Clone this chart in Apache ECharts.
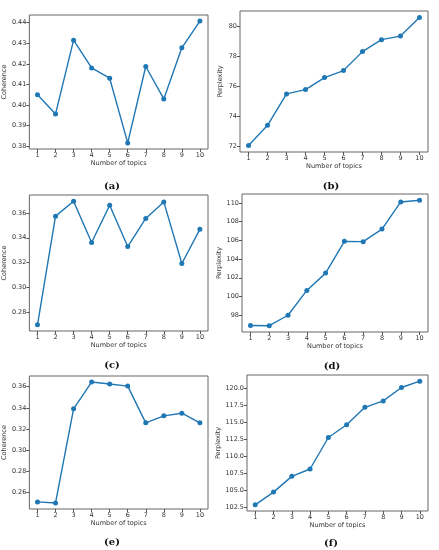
<!DOCTYPE html>
<html>
<head>
<meta charset="utf-8">
<script src="https://cdn.jsdelivr.net/npm/echarts@6/dist/echarts.min.js"></script>
<style>
html,body{margin:0;padding:0;background:#fff;}
#chart{width:439px;height:550px;}
</style>
</head>
<body>
<div id="chart"></div>
<script>
var topics = [1, 2, 3, 4, 5, 6, 7, 8, 9, 10];
var coherenceA = [0.4049, 0.3956, 0.4315, 0.4180, 0.4130, 0.3815, 0.4187, 0.4029, 0.4278, 0.4408];
var perplexityB = [72.02, 73.38, 75.48, 75.77, 76.57, 77.04, 78.31, 79.11, 79.35, 80.60];
var coherenceC = [0.2696, 0.3575, 0.3696, 0.3362, 0.3663, 0.3329, 0.3556, 0.3690, 0.3192, 0.3468];
var perplexityD = [96.90, 96.88, 98.00, 100.65, 102.50, 105.89, 105.86, 107.20, 110.10, 110.28];
var coherenceE = [0.2513, 0.2503, 0.3391, 0.3644, 0.3625, 0.3606, 0.3259, 0.3325, 0.3350, 0.3259];
var perplexityF = [102.80, 104.68, 107.01, 108.10, 112.76, 114.64, 117.22, 118.17, 120.15, 121.09];

var ticksA = [0.38, 0.39, 0.40, 0.41, 0.42, 0.43, 0.44];
var ticksB = [72, 74, 76, 78, 80];
var ticksC = [0.28, 0.30, 0.32, 0.34, 0.36];
var ticksD = [98, 100, 102, 104, 106, 108, 110];
var ticksE = [0.26, 0.28, 0.30, 0.32, 0.34, 0.36];
var ticksF = [102.5, 105.0, 107.5, 110.0, 112.5, 115.0, 117.5, 120.0];

var panelLabels = ['(a)', '(b)', '(c)', '(d)', '(e)', '(f)'];
var xName = 'Number of topics';

var panels = [
  {data: coherenceA, ticks: ticksA, yName: 'Coherence', dec: 2, grid: {left: 28, top: 15, width: 180, height: 134}, nameGap: 18, label: [107, 176]},
  {data: perplexityB, ticks: ticksB, yName: 'Perplexity', dec: 0, grid: {left: 240, top: 11, width: 188, height: 141}, nameGap: 16, label: [326, 176]},
  {data: coherenceC, ticks: ticksC, yName: 'Coherence', dec: 2, grid: {left: 28, top: 195, width: 180, height: 136}, nameGap: 18, label: [107, 355]},
  {data: perplexityD, ticks: ticksD, yName: 'Perplexity', dec: 0, grid: {left: 242, top: 194, width: 186, height: 138}, nameGap: 18, label: [327, 356]},
  {data: coherenceE, ticks: ticksE, yName: 'Coherence', dec: 2, grid: {left: 29, top: 376, width: 179, height: 133}, nameGap: 19, label: [107, 532]},
  {data: perplexityF, ticks: ticksF, yName: 'Perplexity', dec: 1, grid: {left: 247, top: 375, width: 181, height: 136}, nameGap: 23, label: [326, 533]}
];

var font = 'DejaVu Sans';
var textColor = '#333';
var grids = [], xAxes = [], yAxes = [], series = [], titles = [];

panels.forEach(function (p, i) {
  grids.push(Object.assign({show: true, borderColor: '#666', borderWidth: 1, backgroundColor: 'transparent'}, p.grid));
  var xMin = Math.min.apply(null, topics), xMax = Math.max.apply(null, topics);
  var xPad = (xMax - xMin) * 0.05;
  xAxes.push({
    type: 'value', gridIndex: i, min: xMin - xPad, max: xMax + xPad,
    name: xName, nameLocation: 'middle', nameGap: 9,
    nameTextStyle: {fontFamily: font, fontSize: 6.5, color: textColor},
    axisLine: {show: false},
    splitLine: {show: false},
    axisTick: {show: true, length: 3, lineStyle: {color: '#555'}, customValues: topics},
    axisLabel: {fontFamily: font, fontSize: 6.5, color: textColor, margin: 3, customValues: topics,
      formatter: function (v) { return String(Math.round(v)); }}
  });
  var yMin = Math.min.apply(null, p.data), yMax = Math.max.apply(null, p.data);
  var yPad = (yMax - yMin) * 0.05;
  yAxes.push({
    type: 'value', gridIndex: i, min: yMin - yPad, max: yMax + yPad,
    name: p.yName, nameLocation: 'middle', nameGap: p.nameGap,
    nameTextStyle: {fontFamily: font, fontSize: 6.5, color: textColor},
    axisLine: {show: false},
    splitLine: {show: false},
    axisTick: {show: true, length: 3, lineStyle: {color: '#555'}, customValues: p.ticks},
    axisLabel: {fontFamily: font, fontSize: 6.5, color: textColor, margin: 3, customValues: p.ticks,
      formatter: (function (d) { return function (v) { return v.toFixed(d); }; })(p.dec)}
  });
  series.push({
    type: 'line', xAxisIndex: i, yAxisIndex: i,
    data: topics.map(function (t, k) { return [t, p.data[k]]; }),
    symbol: 'circle', symbolSize: 5,
    itemStyle: {color: '#1f77b4'},
    lineStyle: {color: '#1f77b4', width: 1.4},
    animation: false
  });
  titles.push({
    text: panelLabels[i], left: p.label[0], top: p.label[1], textAlign: 'center',
    textStyle: {fontFamily: 'DejaVu Serif', fontWeight: 'bold', fontSize: 10, color: '#111'}
  });
});

var chart = echarts.init(document.getElementById('chart'), null, {renderer: 'canvas'});
chart.setOption({
  animation: false,
  title: titles,
  grid: grids,
  xAxis: xAxes,
  yAxis: yAxes,
  series: series
});
</script>
</body>
</html>
